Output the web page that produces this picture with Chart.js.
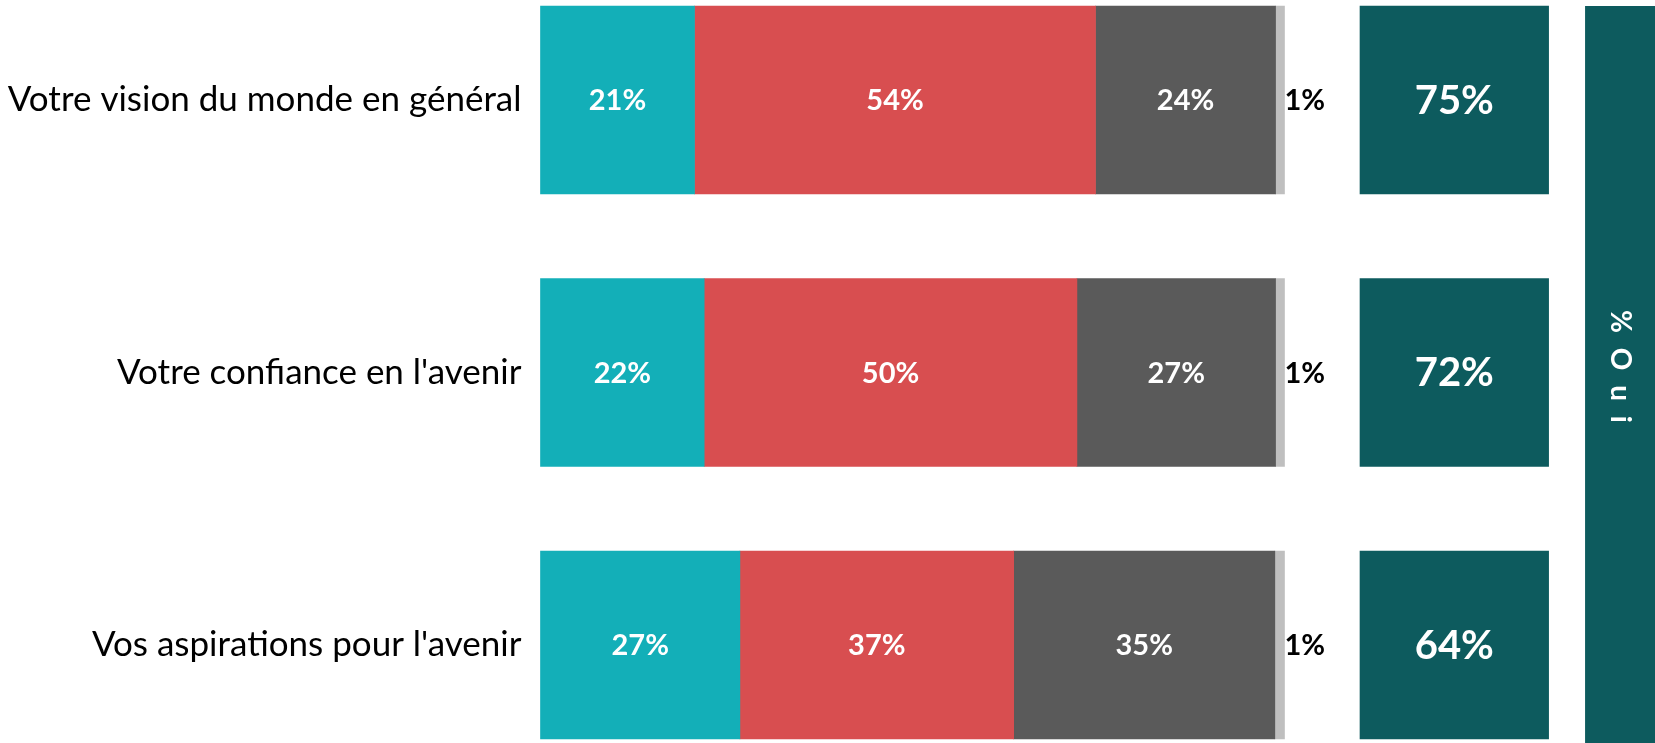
<!DOCTYPE html>
<html>
<head>
<meta charset="utf-8">
<script src="https://cdn.jsdelivr.net/npm/chart.js@4/dist/chart.umd.min.js"></script>
<style>
  html, body { margin: 0; padding: 0; background: #fff; }
  #wrap { width: 1655px; height: 743px; position: relative; }
</style>
</head>
<body>
<div id="wrap"><canvas id="oui"></canvas></div>
<script>
const categories = [
  "Votre vision du monde en général",
  "Votre confiance en l'avenir",
  "Vos aspirations pour l'avenir",
];
const tresPositif = [20.7, 22.0, 26.8];
const plutotPositif = [53.9, 50.1, 36.8];
const negatif = [24.2, 26.7, 35.1];
const nsp = [1.2, 1.2, 1.3];
const totalOui = [75, 72, 64];
const ouiTitle = "% O u i";

const colors = ["#13AFB8", "#D84E50", "#5A5A5A", "#BFBFBF"];
const boxColor = "#0D5B5E";
const FONT = "Lato";

// place of the box column and of the tall side bar, in x units
const BOX_FROM = 110.15;
const BOX_TO = 135.5;
const SIDE_FROM = 140.4;
const X_MAX = 149.8;

const series = [tresPositif, plutotPositif, negatif, nsp];
const starts = categories.map(() => 0);
const datasets = series.map((values, s) => {
  const data = values.map((v, i) => {
    const seg = [starts[i], starts[i] + v];
    starts[i] += v;
    return seg;
  });
  return {
    label: "s" + s,
    data: data,
    raw: values,
    backgroundColor: colors[s],
    borderWidth: 0,
    grouped: false,
    barThickness: 188,
    clip: false,
  };
});
datasets.push({
  label: "oui",
  data: totalOui.map(() => [BOX_FROM, BOX_TO]),
  raw: totalOui,
  backgroundColor: boxColor,
  borderWidth: 0,
  grouped: false,
  barThickness: 188,
  clip: false,
});

const labelsPlugin = {
  id: "labels",
  afterDatasetsDraw(chart) {
    const ctx = chart.ctx;
    ctx.save();
    ctx.textBaseline = "middle";
    chart.data.datasets.forEach((ds, d) => {
      const meta = chart.getDatasetMeta(d);
      meta.data.forEach((el, i) => {
        const txt = Math.round(ds.raw[i]) + "%";
        if (d < 3) {
          ctx.fillStyle = "#fff";
          ctx.font = "bold 29px " + FONT;
          ctx.textAlign = "center";
          ctx.fillText(txt, (el.x + el.base) / 2, el.y + 1);
        } else if (d === 3) {
          ctx.fillStyle = "#000";
          ctx.font = "bold 29px " + FONT;
          ctx.textAlign = "left";
          ctx.fillText(txt, el.x, el.y + 1);
        } else {
          ctx.fillStyle = "#fff";
          ctx.font = "bold 40px " + FONT;
          ctx.textAlign = "center";
          ctx.fillText(txt, (el.x + el.base) / 2, el.y + 1);
        }
      });
    });

    // tall "% Oui" bar on the right
    const first = chart.getDatasetMeta(0).data[0];
    const top = first.y - first.height / 2;
    const x0 = chart.scales.x.getPixelForValue(SIDE_FROM);
    const x1 = chart.width;
    ctx.fillStyle = boxColor;
    ctx.fillRect(x0, top, x1 - x0, chart.height - top);
    ctx.translate((x0 + x1) / 2, (top + chart.height) / 2 - 6);
    ctx.rotate(Math.PI / 2);
    ctx.fillStyle = "#fff";
    ctx.font = "bold 28px " + FONT;
    ctx.letterSpacing = "4px";
    ctx.textAlign = "center";
    ctx.fillText(ouiTitle, 0, 0);
    ctx.restore();
  },
};

new Chart(document.getElementById("oui"), {
  type: "bar",
  data: { labels: categories, datasets: datasets },
  plugins: [labelsPlugin],
  options: {
    indexAxis: "y",
    responsive: true,
    maintainAspectRatio: false,
    animation: false,
    layout: { padding: { top: 100, bottom: 98, left: 0, right: 0 } },
    plugins: {
      legend: { display: false },
      tooltip: { enabled: false },
    },
    scales: {
      x: {
        type: "linear",
        min: 0,
        max: X_MAX,
        display: false,
      },
      y: {
        offset: false,
        border: { display: false },
        grid: { display: false, drawTicks: false },
        ticks: {
          color: "#000",
          padding: 19,
          font: { family: FONT, size: 35 },
        },
        afterFit: (scale) => {
          scale.width = 540.5;
        },
      },
    },
  },
});
</script>
</body>
</html>
